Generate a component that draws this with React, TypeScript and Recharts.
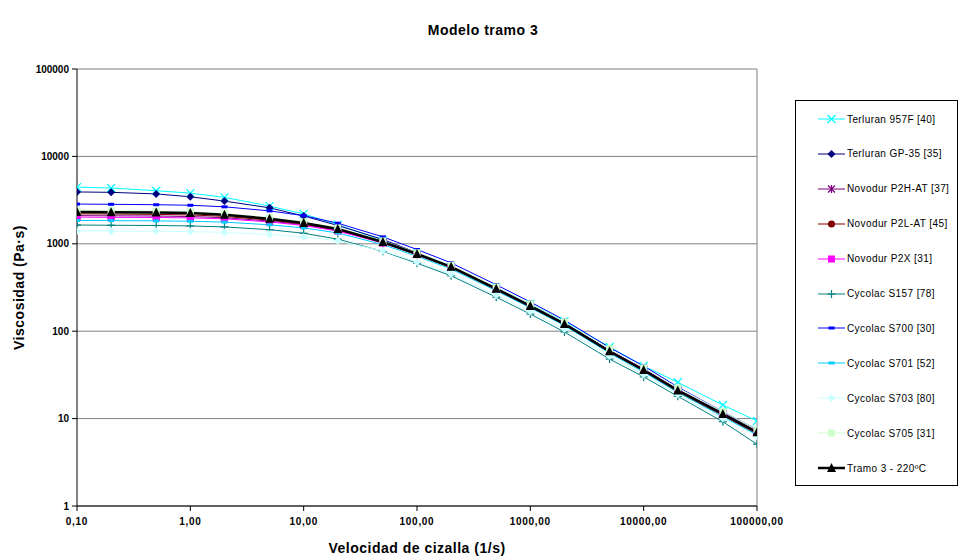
import { CartesianGrid, Line, LineChart, ReferenceLine, XAxis, YAxis } from "recharts";

const shearRates = [0.1, 0.2, 0.5, 1, 2, 5, 10, 20, 50, 100, 200, 500, 1000, 2000, 5000, 10000, 20000, 50000, 100000];

const terluran957F = [4450, 4350, 4050, 3800, 3400, 2700, 2200, 1650, 1100, 770, 540, 315, 205, 130, 66, 40, 26, 14.3, 9.4];
const terluranGP35 = [3920, 3880, 3720, 3450, 3080, 2580, 2080, 1620, 1120, 790, 555, 315, 200, 125, 60, 36, 21, 11, 6.8];
const novodurP2HAT = [2100, 2090, 2080, 2050, 1990, 1820, 1650, 1420, 1030, 760, 545, 305, 195, 122, 60, 37, 21, 11.3, 7.0];
const novodurP2LAT = [2200, 2190, 2170, 2140, 2060, 1870, 1680, 1440, 1030, 750, 535, 300, 190, 118, 57, 35, 20, 10.8, 6.6];
const novodurP2X = [2020, 2010, 2000, 1980, 1930, 1780, 1620, 1400, 1020, 755, 540, 305, 196, 123, 60, 37, 21.5, 11.5, 7.1];
const cycolacS157 = [1640, 1630, 1620, 1600, 1560, 1450, 1320, 1130, 820, 600, 430, 245, 157, 98, 48, 30, 18, 9.2, 5.1];
const cycolacS700 = [2850, 2830, 2800, 2760, 2650, 2380, 2100, 1720, 1200, 860, 605, 340, 216, 134, 65, 40, 23, 12, 7.5];
const cycolacS701 = [1850, 1840, 1830, 1810, 1770, 1650, 1520, 1330, 980, 720, 515, 290, 185, 116, 56, 34, 20, 10.5, 6.5];
const cycolacS703 = [1400, 1400, 1390, 1380, 1350, 1280, 1200, 1080, 830, 620, 450, 260, 168, 106, 52, 32, 19, 10, 6.3];
const cycolacS705 = [2400, 2390, 2360, 2320, 2220, 1990, 1780, 1520, 1080, 790, 565, 320, 205, 128, 63, 38, 22.5, 12, 7.5];
const tramo3 = [2310, 2300, 2280, 2250, 2150, 1930, 1730, 1480, 1050, 765, 545, 305, 194, 121, 59, 36, 21, 11.3, 7.0];

const xTicks = [0.1, 1, 10, 100, 1000, 10000, 100000];
const yTicks = [1, 10, 100, 1000, 10000, 100000];

type Shape = "x" | "diamond" | "star" | "circle" | "square" | "plus" | "dash" | "triangle";

const series: { key: string; name: string; values: number[]; color: string; shape: Shape; width: number }[] = [
  { key: "s1", name: "Terluran 957F [40]", values: terluran957F, color: "#00FFFF", shape: "x", width: 1 },
  { key: "s2", name: "Terluran GP-35 [35]", values: terluranGP35, color: "#000080", shape: "diamond", width: 1 },
  { key: "s3", name: "Novodur P2H-AT [37]", values: novodurP2HAT, color: "#800080", shape: "star", width: 1 },
  { key: "s4", name: "Novodur P2L-AT [45]", values: novodurP2LAT, color: "#800000", shape: "circle", width: 1 },
  { key: "s5", name: "Novodur P2X [31]", values: novodurP2X, color: "#FF00FF", shape: "square", width: 1 },
  { key: "s6", name: "Cycolac S157 [78]", values: cycolacS157, color: "#008080", shape: "plus", width: 1 },
  { key: "s7", name: "Cycolac S700 [30]", values: cycolacS700, color: "#0000FF", shape: "dash", width: 1 },
  { key: "s8", name: "Cycolac S701 [52]", values: cycolacS701, color: "#00CCFF", shape: "dash", width: 1 },
  { key: "s9", name: "Cycolac S703 [80]", values: cycolacS703, color: "#CCFFFF", shape: "diamond", width: 1 },
  { key: "s10", name: "Cycolac S705 [31]", values: cycolacS705, color: "#CCFFCC", shape: "square", width: 1 },
  { key: "s11", name: "Tramo 3 - 220ºC", values: tramo3, color: "#000000", shape: "triangle", width: 2.5 },
];

const data = shearRates.map((x, i) => {
  const row: Record<string, number> = { x };
  series.forEach((s) => (row[s.key] = s.values[i]));
  return row;
});

const font = "'Liberation Sans', Arial, sans-serif";

function marker(shape: Shape, color: string, cx: number, cy: number, key?: string | number) {
  switch (shape) {
    case "x":
      return (
        <g key={key} stroke={color} strokeWidth={1.3}>
          <line x1={cx - 4} y1={cy - 4} x2={cx + 4} y2={cy + 4} />
          <line x1={cx - 4} y1={cy + 4} x2={cx + 4} y2={cy - 4} />
        </g>
      );
    case "star":
      return (
        <g key={key} stroke={color} strokeWidth={1.3}>
          <line x1={cx - 3.5} y1={cy - 3.5} x2={cx + 3.5} y2={cy + 3.5} />
          <line x1={cx - 3.5} y1={cy + 3.5} x2={cx + 3.5} y2={cy - 3.5} />
          <line x1={cx} y1={cy - 4} x2={cx} y2={cy + 4} />
        </g>
      );
    case "diamond":
      return <polygon key={key} points={`${cx},${cy - 4} ${cx + 4},${cy} ${cx},${cy + 4} ${cx - 4},${cy}`} fill={color} />;
    case "circle":
      return <circle key={key} cx={cx} cy={cy} r={3.5} fill={color} />;
    case "square":
      return <rect key={key} x={cx - 3.5} y={cy - 3.5} width={7} height={7} fill={color} />;
    case "plus":
      return (
        <g key={key} stroke={color} strokeWidth={1.2}>
          <line x1={cx} y1={cy - 4} x2={cx} y2={cy + 4} />
          <line x1={cx - 4} y1={cy} x2={cx + 4} y2={cy} />
        </g>
      );
    case "dash":
      return <rect key={key} x={cx - 3} y={cy - 1.5} width={6} height={3} fill={color} />;
    case "triangle":
      return <polygon key={key} points={`${cx},${cy - 5} ${cx + 4.5},${cy + 4} ${cx - 4.5},${cy + 4}`} fill={color} />;
  }
}

function YLabel({ viewBox }: any) {
  const cy = viewBox.y + viewBox.height / 2;
  return (
    <text x={24} y={cy} transform={`rotate(-90, 24, ${cy})`} textAnchor="middle" fontFamily={font} fontWeight="bold" fontSize={14} letterSpacing={0.5} fill="#000">
      Viscosidad (Pa·s)
    </text>
  );
}

export default function App() {
  return (
    <div style={{ position: "absolute", left: 0, top: 0, width: 963, height: 556, background: "#fff", fontFamily: font }}>
      <div style={{ position: "absolute", left: 0, width: 966, top: 22, textAlign: "center", fontWeight: "bold", fontSize: 14, letterSpacing: 0.5 }}>
        Modelo tramo 3
      </div>
      <LineChart width={963} height={556} data={data} margin={{ top: 69, right: 206, bottom: 0, left: 0 }}>
        <CartesianGrid vertical={false} stroke="#808080" strokeWidth={1} horizontalValues={yTicks} />
        <ReferenceLine x={100000} stroke="#808080" />
        <XAxis
          dataKey="x"
          type="number"
          scale="log"
          domain={[0.1, 100000]}
          ticks={xTicks}
          allowDataOverflow
          height={50}
          stroke="#000"
          tickSize={5}
          tickMargin={7}
          tick={{ fontSize: 10, fontWeight: "bold", fill: "#000", fontFamily: font, letterSpacing: 0.7 }}
          tickFormatter={(v) => Number(v).toFixed(2).replace(".", ",")}
          label={{ value: "Velocidad de cizalla (1/s)", position: "insideBottom", offset: 3, style: { fontSize: 14, fontWeight: "bold", fill: "#000", fontFamily: font, letterSpacing: 0.5 } }}
        />
        <YAxis
          type="number"
          scale="log"
          domain={[1, 100000]}
          ticks={yTicks}
          allowDataOverflow
          width={77}
          stroke="#000"
          tickSize={5}
          tickMargin={3}
          tick={{ fontSize: 10, fontWeight: "bold", fill: "#000", fontFamily: font }}
          label={<YLabel />}
        />
        {series.map((s) => (
          <Line
            key={s.key}
            dataKey={s.key}
            name={s.name}
            stroke={s.color}
            strokeWidth={s.width}
            type="linear"
            isAnimationActive={false}
            dot={(p: any) => marker(s.shape, s.color, p.cx, p.cy, p.index)}
            activeDot={false}
          />
        ))}
      </LineChart>
      <div style={{ position: "absolute", left: 795, top: 100, width: 163, height: 386, border: "1px solid #000", boxSizing: "border-box" }}>
        {series.map((s, i) => (
          <div key={s.key} style={{ position: "absolute", left: 22, top: 11 + i * 34.9, height: 14, display: "flex", alignItems: "center", fontSize: 10, letterSpacing: 0.4, whiteSpace: "nowrap" }}>
            <svg width={27} height={14} style={{ marginRight: 2 }}>
              <line x1={0} y1={7} x2={27} y2={7} stroke={s.color} strokeWidth={s.width} />
              {marker(s.shape, s.color, 13.5, 7)}
            </svg>
            <span>{s.name}</span>
          </div>
        ))}
      </div>
    </div>
  );
}
